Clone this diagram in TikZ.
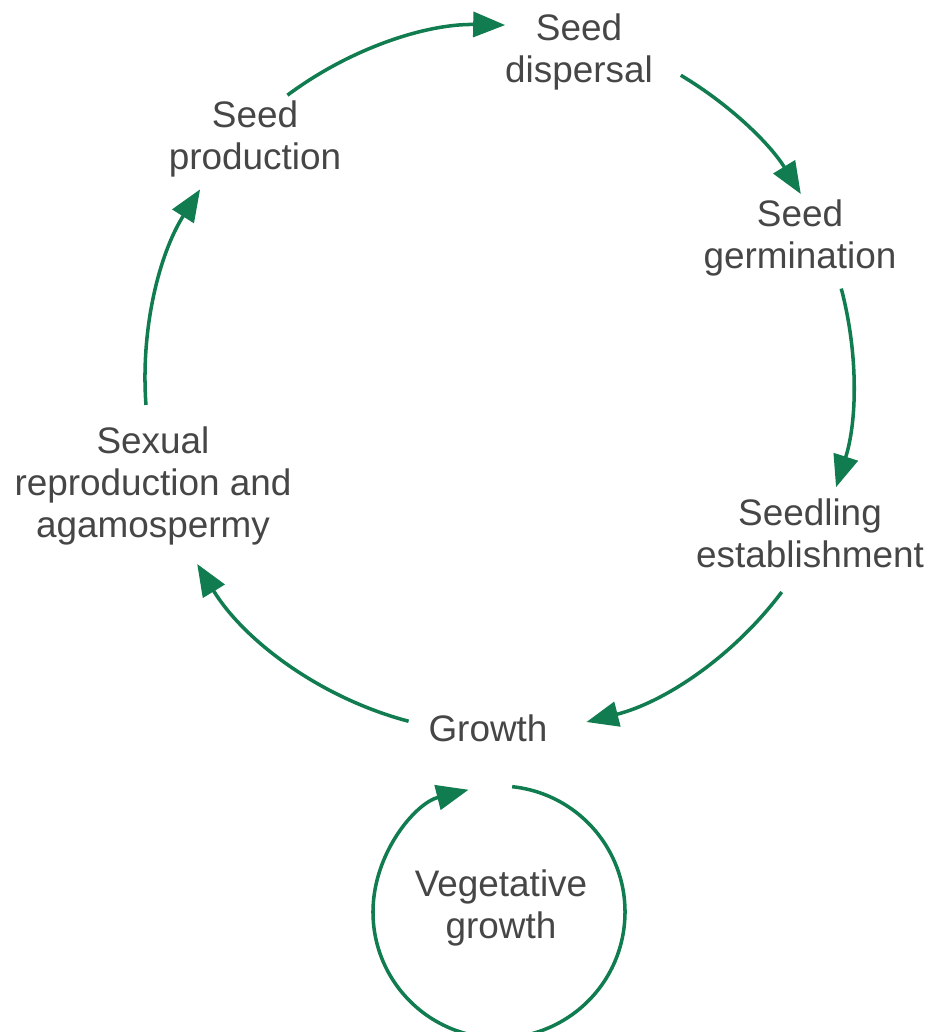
\documentclass[tikz,border=0pt]{standalone}
\usepackage{fontspec}
\setmainfont{Liberation Sans}
\usetikzlibrary{arrows.meta}
\definecolor{leafgreen}{RGB}{16,124,80}
\definecolor{inkgray}{RGB}{70,70,70}
\begin{document}
\begin{tikzpicture}[
    flow/.style={leafgreen, line width=2pt, -{Triangle[length=0.64cm,width=0.5cm]}, looseness=0.88},
    stage/.style={text=inkgray, align=center, inner sep=0pt, font=\fontsize{21}{24}\selectfont}]
    \useasboundingbox (0,0) rectangle (18.66,-20.64);
    \coordinate (O) at (9.98,-7.58);
    \coordinate (V) at (9.98,-18.24);
    \def\R{7.08}
    \node[stage] (disp) at (11.58,-1.04) {Seed\\dispersal};
    \node[stage] (prod) at (5.10,-2.78) {Seed\\production};
    \node[stage] (germ) at (16.00,-4.76) {Seed\\germination};
    \node[stage] (estab) at (16.20,-10.66) {Seedling\\establishment};
    \node[stage] (sex) at (3.06,-9.72) {Sexual\\reproduction and\\agamospermy};
    \node[stage] (growth) at (9.76,-14.57) {Growth};
    \node[stage] (veg) at (10.02,-18.16) {Vegetative\\growth};
    \foreach \n/\a in {s1/126.7, t1/89, s2/59.1, t2/31.5, s3/14.8, t3/-17.8,
                       s4/-37, t4/-75.7, s5/-104.8, t5/-148.5, s6/184.2, t6/147.6}
        \coordinate (\n) at ([shift={(\a:\R)}]O);
    \draw[flow] (s1) to[bend left=18.9] (t1);
    \draw[flow] (s2) to[bend left=13.8] (t2);
    \draw[flow] (s3) to[bend left=16.3] (t3);
    \draw[flow] (s4) to[bend left=19.4] (t4);
    \draw[flow] (s5) to[bend left=21.9] (t5);
    \draw[flow] (s6) to[bend left=18.3] (t6);
    \draw[flow] ([shift={(84:2.52)}]V) arc[start angle=84, end angle=-256, radius=2.52];
\end{tikzpicture}
\end{document}
